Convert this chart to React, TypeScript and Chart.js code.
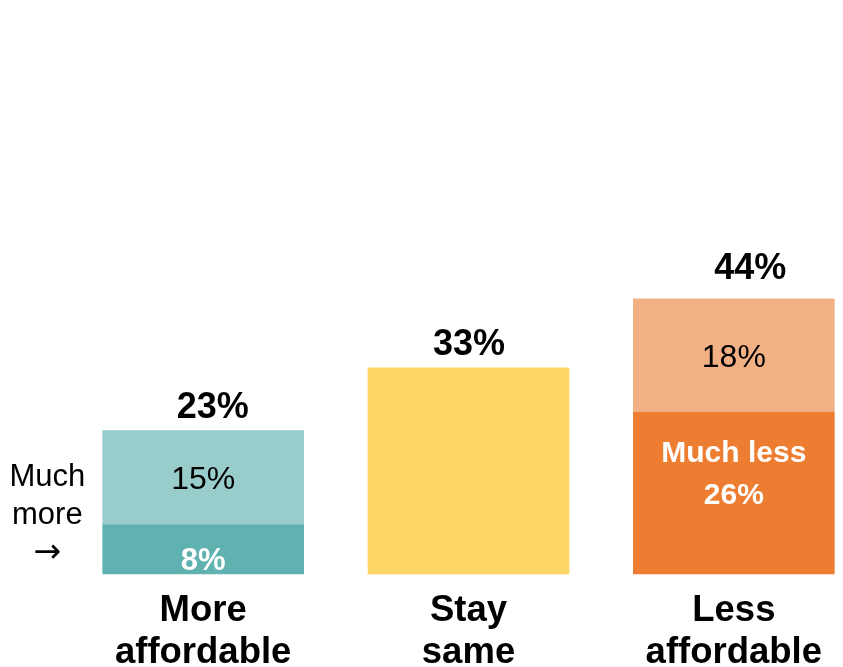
import React, { useEffect, useRef } from "react";
import { Chart, registerables } from "chart.js";

Chart.register(...registerables);

// ---- data ----
const categories: string[][] = [["More", "affordable"], ["Stay", "same"], ["Less", "affordable"]];
const baseValues: number[] = [8, 33, 26];
const topValues: (number | null)[] = [15, null, 18];
const baseLabels: string[][] = [["8%"], [], ["Much less", "26%"]];
const topLabels: string[][] = [["15%"], [], ["18%"]];
const totals: number[] = baseValues.map((v, i) => v + (topValues[i] ?? 0));
const sideNote: string[] = ["Much", "more", "\u2192"];

// ---- styles ----
const FONT = "'Liberation Sans', Arial, Helvetica, sans-serif";
const baseColors = ["#60B2B0", "#FDD667", "#ED7D31"];
const topColors = ["#99CDCC", "rgba(0,0,0,0)", "#F3B085"];

const labelsPlugin = {
  id: "barLabels",
  afterDatasetsDraw(chart: any) {
    const ctx = chart.ctx as CanvasRenderingContext2D;
    ctx.save();
    ctx.textAlign = "center";
    ctx.textBaseline = "middle";

    const metaBase = chart.getDatasetMeta(0);
    const metaTop = chart.getDatasetMeta(1);
    const baseNudge = [12, 0, 3];

    // base segment labels (bold white)
    metaBase.data.forEach((bar: any, i: number) => {
      const lines = baseLabels[i];
      if (!lines.length) return;
      const { x, y, base } = bar.getProps(["x", "y", "base"], true);
      const mid = (y + base) / 2 + baseNudge[i];
      ctx.fillStyle = "#FFFFFF";
      ctx.font = `bold ${lines.length > 1 ? 30 : 31}px ${FONT}`;
      const lh = 42;
      lines.forEach((ln, k) => {
        ctx.fillText(ln, x, mid - (lines.length - 1 - k) * lh);
      });
    });

    // top segment labels (regular black)
    metaTop.data.forEach((bar: any, i: number) => {
      const lines = topLabels[i];
      if (!lines.length || topValues[i] == null) return;
      const { x, y, base } = bar.getProps(["x", "y", "base"], true);
      const mid = (y + base) / 2 + 3;
      ctx.fillStyle = "#000000";
      ctx.font = `32px ${FONT}`;
      lines.forEach((ln, k) => ctx.fillText(ln, x, mid + k * 40));
    });

    // totals above bars
    const yScale = chart.scales.y;
    const xNudge = [9.5, 0.5, 16.5];
    const yGap = [22, 22, 29];
    ctx.fillStyle = "#000000";
    ctx.font = `bold 36px ${FONT}`;
    metaBase.data.forEach((bar: any, i: number) => {
      const { x } = bar.getProps(["x"], true);
      const top = yScale.getPixelForValue(totals[i]);
      ctx.fillText(`${totals[i]}%`, x + xNudge[i], top - yGap[i]);
    });

    // side note left of first bar
    const first = metaBase.data[0];
    if (first) {
      const { x, width, base } = first.getProps(["x", "width", "base"], true);
      const cx = x - width / 2 - 55;
      const offs = [-97, -59, -21];
      sideNote.forEach((t, k) => {
        ctx.font = k === 2 ? `33px 'DejaVu Sans', sans-serif` : `31px ${FONT}`;
        ctx.fillText(t, cx, base + offs[k]);
      });
    }
    ctx.restore();
  },
};

export default function App() {
  const ref = useRef<HTMLCanvasElement | null>(null);

  useEffect(() => {
    if (!ref.current) return;
    Chart.defaults.font.family = FONT;
    const chart = new Chart(ref.current, {
      type: "bar",
      data: {
        labels: categories,
        datasets: [
          {
            label: "Much",
            data: baseValues,
            backgroundColor: baseColors,
            borderWidth: 0,
            barPercentage: 0.76,
            categoryPercentage: 1,
          },
          {
            label: "Somewhat",
            data: topValues,
            backgroundColor: topColors,
            borderWidth: 0,
            barPercentage: 0.76,
            categoryPercentage: 1,
          },
        ],
      },
      options: {
        responsive: false,
        animation: false,
        events: [],
        layout: { padding: { left: 70.5, right: 13.5, top: 0, bottom: 0 } },
        plugins: {
          legend: { display: false },
          title: { display: false },
          tooltip: { enabled: false },
        },
        scales: {
          x: {
            stacked: true,
            grid: { display: false, drawTicks: false },
            border: { display: false },
            ticks: {
              color: "#000000",
              font: { family: FONT, size: 36.5, weight: "bold", lineHeight: 1.15 },
              padding: 15,
              maxRotation: 0,
              autoSkip: false,
            },
            afterFit: (scale: any) => {
              scale.height = 92.5;
            },
          },
          y: {
            stacked: true,
            display: false,
            min: 0,
            max: 91.6,
          },
        },
      },
      plugins: [labelsPlugin],
    });
    return () => chart.destroy();
  }, []);

  return (
    <div style={{ position: "fixed", left: 0, top: 0, width: 843, height: 667, overflow: "hidden", background: "#FFFFFF" }}>
      <canvas ref={ref} width={880} height={667} style={{ display: "block" }} />
    </div>
  );
}
